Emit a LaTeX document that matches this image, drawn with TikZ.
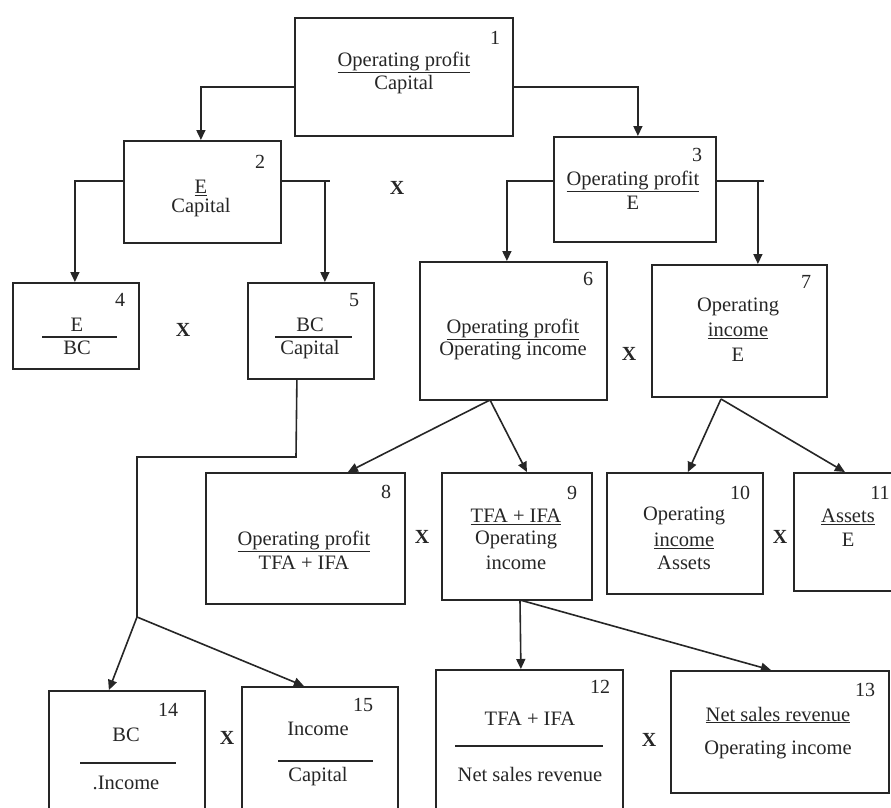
\documentclass[tikz,border=0pt]{standalone}
\usepackage{fontspec}
\setmainfont{Liberation Serif}
\usetikzlibrary{arrows.meta}
\begin{document}
\begin{tikzpicture}[x=1pt,y=-1pt,
  box/.style={draw=black!85, line width=1.8pt, anchor=north west, inner sep=0pt},
  txt/.style={inner sep=0pt, font=\fontsize{20.5}{24}\selectfont, text=black!85},
  num/.style={inner sep=0pt, font=\fontsize{20}{24}\selectfont, text=black!85},
  times/.style={inner sep=0pt, font=\fontsize{20}{24}\selectfont\bfseries, text=black!85},
  conn/.style={draw=black!85, line width=1.6pt},
  arr/.style={conn, -{Triangle[length=10pt,width=9pt]}},
  frac/.style={draw=black!85, line width=1.4pt}]
\clip (0,0) rectangle (891,807);
\fill[white] (0,0) rectangle (891,807);
% boxes
\node[box, minimum width=218pt, minimum height=118pt] (b1) at (294,17) {};
\node[box, minimum width=157pt, minimum height=102pt] (b2) at (123,140) {};
\node[box, minimum width=162pt, minimum height=105pt] (b3) at (553,136) {};
\node[box, minimum width=126pt, minimum height=86pt] (b4) at (12,282) {};
\node[box, minimum width=126pt, minimum height=96pt] (b5) at (247,282) {};
\node[box, minimum width=187pt, minimum height=138pt] (b6) at (419,261) {};
\node[box, minimum width=175pt, minimum height=132pt] (b7) at (651,264) {};
\node[box, minimum width=199pt, minimum height=131pt] (b8) at (205,472) {};
\node[box, minimum width=150pt, minimum height=127pt] (b9) at (441,472) {};
\node[box, minimum width=156pt, minimum height=121pt] (b10) at (606,472) {};
\node[box, minimum width=120pt, minimum height=118pt] (b11) at (793,472) {};
\node[box, minimum width=187pt, minimum height=150pt] (b12) at (435,669) {};
\node[box, minimum width=218pt, minimum height=122pt] (b13) at (670,670) {};
\node[box, minimum width=156pt, minimum height=130pt] (b14) at (48,690) {};
\node[box, minimum width=156pt, minimum height=134pt] (b15) at (241,686) {};
% numbers
\node[num] (n1) at (495,38) {1};
\node[num] (n2) at (260,162) {2};
\node[num] (n3) at (697,155) {3};
\node[num] (n4) at (120,300) {4};
\node[num] (n5) at (354,300) {5};
\node[num] (n6) at (588,279) {6};
\node[num] (n7) at (806,282) {7};
\node[num] (n8) at (386,492) {8};
\node[num] (n9) at (572,493) {9};
\node[num] (n10) at (740,493) {10};
\node[num] (n11) at (880,493) {11};
\node[num] (n12) at (600,687) {12};
\node[num] (n13) at (865,690) {13};
\node[num] (n14) at (168,710) {14};
\node[num] (n15) at (363,705) {15};
% texts
\node[txt] (t1a) at (404,62) {\underline{Operating profit}};
\node[txt] (t1b) at (404,85) {Capital};
\node[txt] (t2a) at (201,188) {\underline{E}};
\node[txt] (t2b) at (201,208) {Capital};
\node[txt] (t3a) at (633,181) {\underline{Operating profit}};
\node[txt] (t3b) at (633,203) {E};
\node[txt] (t4a) at (77,325) {E};
\node[txt] (t4b) at (77,348) {BC};
\draw[frac] (42,337) -- (117,337);
\node[txt] (t5a) at (310,325) {BC};
\node[txt] (t5b) at (310,350) {Capital};
\draw[frac] (275,337) -- (352,337);
\node[txt] (t6a) at (513,329) {\underline{Operating profit}};
\node[txt] (t6b) at (513,351) {Operating income};
\node[txt] (t7a) at (738,307) {Operating};
\node[txt] (t7b) at (738,331) {\underline{income}};
\node[txt] (t7c) at (738,355) {E};
\node[txt] (t8a) at (304,541) {\underline{Operating profit}};
\node[txt] (t8b) at (304,563) {TFA + IFA};
\node[txt] (t9a) at (516,517) {\underline{TFA + IFA}};
\node[txt] (t9b) at (516,540) {Operating};
\node[txt] (t9c) at (516,563) {income};
\node[txt] (t10a) at (684,516) {Operating};
\node[txt] (t10b) at (684,541) {\underline{income}};
\node[txt] (t10c) at (684,563) {Assets};
\node[txt] (t11a) at (848,517) {\underline{Assets}};
\node[txt] (t11b) at (848,540) {E};
\node[txt] (t12a) at (530,719) {TFA + IFA};
\node[txt] (t12b) at (530,774) {Net sales revenue};
\draw[frac] (455,746) -- (603,746);
\node[txt] (t13a) at (778,715) {\underline{Net sales revenue}};
\node[txt] (t13b) at (778,750) {Operating income};
\node[txt] (t14a) at (126,735) {BC};
\node[txt] (t14b) at (126,783) {.Income};
\draw[frac] (80,763) -- (176,763);
\node[txt] (t15a) at (318,729) {Income};
\node[txt] (t15b) at (318,777) {Capital};
\draw[frac] (278,761) -- (373,761);
% multiplication signs
\node[times] (x1) at (183,330) {X};
\node[times] (x2) at (397,188) {X};
\node[times] (x3) at (629,354) {X};
\node[times] (x4) at (422,537) {X};
\node[times] (x5) at (780,537) {X};
\node[times] (x6) at (649,740) {X};
\node[times] (x7) at (227,738) {X};
% connectors
\draw[arr] ([yshift=-10pt]b1.west) -| ([xshift=-1.5pt]b2.north);
\draw[arr] ([yshift=-10pt]b1.east) -| ([xshift=3pt]b3.north);
\draw[arr] ([yshift=11pt]b2.west) -| ([xshift=-1pt]b4.north);
\draw[conn] ([yshift=11pt]b2.east) -- ++(48,0);
\draw[arr] ([yshift=11pt]b2.east) -| ([xshift=14pt]b5.north);
\draw[arr] ([yshift=8.5pt]b3.west) -| ([xshift=-6.5pt]b6.north);
\draw[conn] ([yshift=8.5pt]b3.east) -- ++(47,0);
\draw[arr] ([yshift=8.5pt]b3.east) -| ([xshift=18.5pt]b7.north);
\coordinate (j0) at (296,457);
\coordinate (j1) at (137,617);
\draw[conn] ([xshift=-14pt]b5.south) -- (j0) -| (j1);
\draw[arr] (j1) -- ([xshift=-18pt]b14.north);
\draw[arr] (j1) -- ([xshift=-16pt]b15.north);
\coordinate (j6) at (490,400);
\draw[arr] (j6) -- ([xshift=42.5pt]b8.north);
\draw[arr] (j6) -- ([xshift=10pt]b9.north);
\coordinate (j7) at (721,399);
\draw[arr] (j7) -- ([xshift=3pt]b10.north);
\draw[arr] (j7) -- ([xshift=-9pt]b11.north);
\coordinate (j9) at (520,600);
\draw[arr] (j9) -- ([xshift=-8.5pt]b12.north);
\draw[arr] (j9) -- ([xshift=-9pt]b13.north);
\end{tikzpicture}
\end{document}
